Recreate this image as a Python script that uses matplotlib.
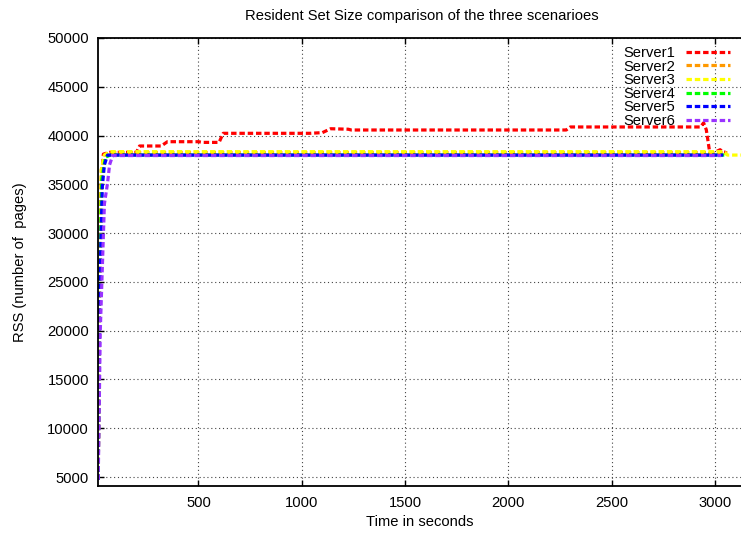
import matplotlib
matplotlib.use("Agg")
import matplotlib.pyplot as plt

plt.rcParams['font.family'] = ['Liberation Sans', 'DejaVu Sans']

series_names = ["Server1", "Server2", "Server3", "Server4", "Server5", "Server6"]
colors = ["#ff0000", "#ff9900", "#ffff00", "#00ff00", "#0000ff", "#9933ff"]

s1_t = [15, 20, 25, 40, 70, 200, 215, 320, 350, 500, 520, 600, 620, 1040, 1100, 1140, 1225, 1240, 2280, 2300, 2930, 2945, 2958, 2975, 3000, 3025, 3035, 3050]
s1_v = [4700, 20000, 33000, 38100, 38280, 38280, 38930, 38930, 39370, 39370, 39300, 39300, 40230, 40230, 40300, 40700, 40650, 40570, 40570, 40880, 40880, 41300, 40600, 38200, 38300, 38550, 38350, 38300]

s2_t = [15, 22, 30, 45, 70, 3060]
s2_v = [4700, 25000, 36500, 38000, 38250, 38250]

s3_t = [15, 22, 30, 45, 70, 3040, 3060, 3200]
s3_v = [4700, 25000, 36500, 38000, 38350, 38350, 38000, 38000]

s4_t = [15, 22, 32, 50, 75, 3045]
s4_v = [4700, 24000, 35500, 37800, 38000, 38000]

s5_t = [15, 22, 35, 45, 60, 3040]
s5_v = [4700, 24000, 34800, 37000, 38000, 38000]

s6_t = [15, 25, 45, 60, 70, 85, 3030]
s6_v = [4700, 20000, 33000, 35100, 37000, 37950, 37950]

all_t = [s1_t, s2_t, s3_t, s4_t, s5_t, s6_t]
all_v = [s1_v, s2_v, s3_v, s4_v, s5_v, s6_v]

x_ticks = [500, 1000, 1500, 2000, 2500, 3000]
y_ticks = [5000, 10000, 15000, 20000, 25000, 30000, 35000, 40000, 45000, 50000]

W, H = 741, 534
fig = plt.figure(figsize=(W / 100, H / 100), dpi=100)
ax = fig.add_axes([98 / W, 48 / H, (756.3 - 98) / W, (486 - 38) / H])

for t, v, c, n in zip(all_t, all_v, colors, series_names):
    ax.plot(t, v, color=c, lw=2.3, dashes=(1.7, 0.9), label=n,
            solid_joinstyle='miter', dash_capstyle='butt')

ax.set_xlim(14, 3200)
ax.set_ylim(4078, 50000)
ax.set_xticks(x_ticks)
ax.set_yticks(y_ticks)
ax.grid(True, color='#444444', lw=0.8, dashes=(1, 2.5))
ax.set_axisbelow(True)
ax.tick_params(direction='in', length=4.5, width=1, labelsize=10.6,
               top=True, right=True, pad=6.5, colors='black')
ax.tick_params(axis='x', pad=7)
for s in ax.spines.values():
    s.set_linewidth(1.3)

fig.text(421.5 / W, 1 - 16 / H, "Resident Set Size comparison of the three scenarioes",
         ha='center', va='center', fontsize=10.6)
fig.text(420 / W, 1 - 522 / H, "Time in seconds", ha='center', va='center', fontsize=10.6)
fig.text(20 / W, 1 - 262 / H, "RSS (number of  pages)", ha='center', va='center',
         rotation=90, fontsize=10.6)

leg = ax.legend(loc='upper right', bbox_to_anchor=(730 / W, 1 - 46 / H),
                bbox_transform=fig.transFigure, frameon=False, markerfirst=False,
                handlelength=3.0, handletextpad=0.75, labelspacing=-0.03,
                fontsize=10.6, borderaxespad=0, borderpad=0)

fig.savefig("out.png", dpi=100)
